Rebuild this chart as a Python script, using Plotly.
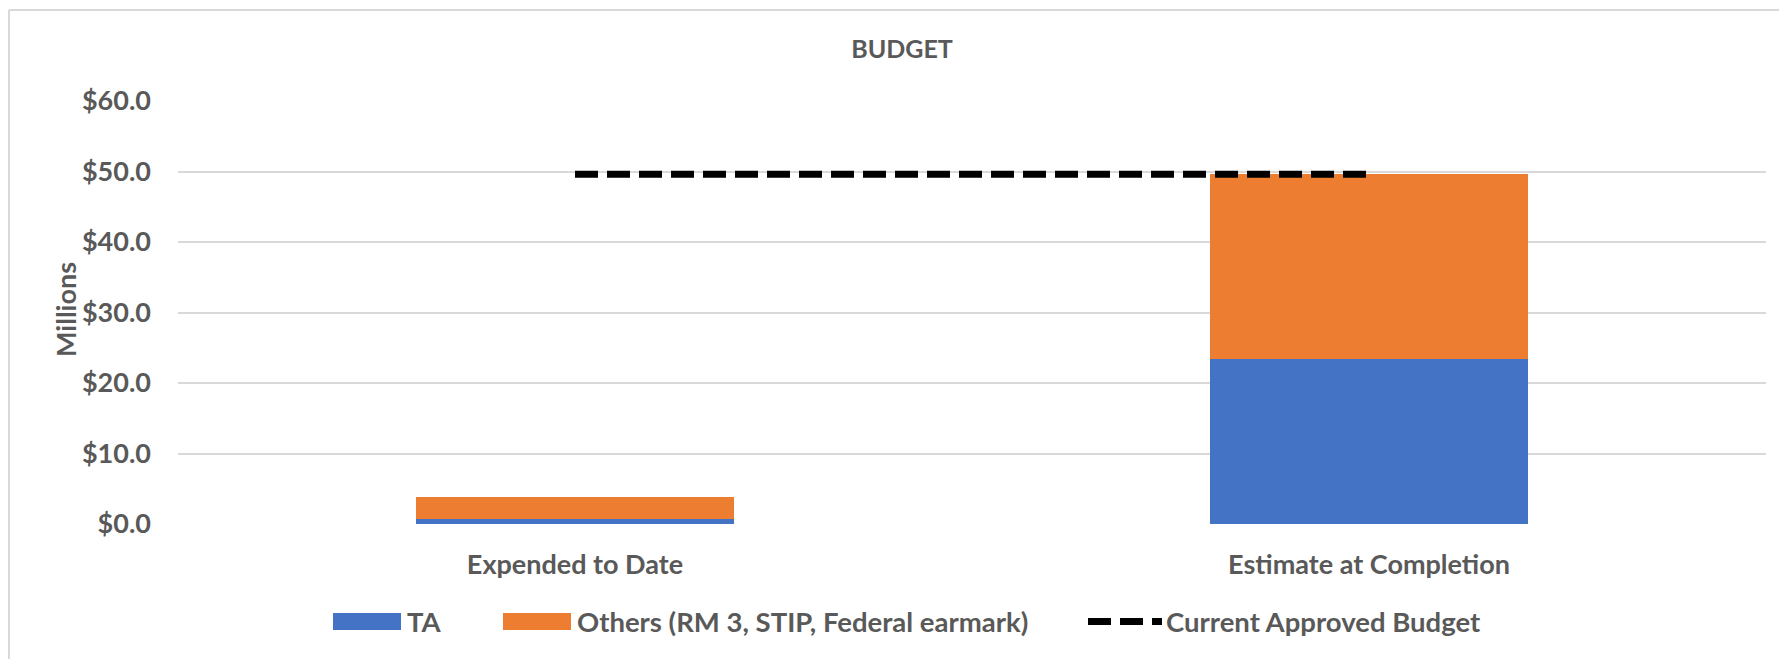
import plotly.graph_objects as go

categories = ["Expended to Date", "Estimate at Completion"]
ta_values = [0.65, 23.35]
others_values = [3.25, 26.25]
budget_values = [49.6, 49.6]
series_names = ["TA", "Others (RM 3, STIP, Federal earmark)", "Current Approved Budget"]
y_ticks = [0, 10, 20, 30, 40, 50, 60]
y_tick_labels = ["$" + f"{v:.1f}" for v in y_ticks]

BLUE = "#4472C4"
ORANGE = "#ED7D31"
GRID = "#D9D9D9"
TXT = "#595959"
FONT = "Lato"
FS = 27

OFF = 8  # page body margin
W, H = 1787 - OFF, 659 - OFF
# plot area in reference-screen pixels
L, R, T, B = 178, 1766, 101, 524


def px_x(p):
    return (p - L) / (R - L)


def px_y(p):
    return (B - p) / (B - T)


fig = go.Figure()
fig.add_trace(go.Bar(x=categories, y=ta_values, name=series_names[0],
                     marker=dict(color=BLUE, line=dict(width=0))))
fig.add_trace(go.Bar(x=categories, y=others_values, name=series_names[1],
                     marker=dict(color=ORANGE, line=dict(width=0))))
fig.add_trace(go.Scatter(x=categories, y=budget_values, name=series_names[2],
                         mode="lines",
                         line=dict(color="black", width=7, dash="23px,9px")))

shapes = [
    dict(type="line", xref="paper", yref="paper", x0=px_x(9), x1=px_x(9),
         y0=px_y(700), y1=px_y(10), line=dict(color=GRID, width=2)),
    dict(type="line", xref="paper", yref="paper", x0=px_x(9), x1=px_x(1800),
         y0=px_y(10), y1=px_y(10), line=dict(color=GRID, width=2)),
]

annotations = []
ly = 621.5
lfont = dict(family=FONT, size=27.5, color=TXT)
shapes.append(dict(type="rect", xref="paper", yref="paper",
                   x0=px_x(333), x1=px_x(401), y0=px_y(ly + 8.5), y1=px_y(ly - 8.5),
                   fillcolor=BLUE, line=dict(width=0)))
annotations.append(dict(text="<b>" + series_names[0] + "</b>", xref="paper", yref="paper",
                        x=px_x(405), y=px_y(ly), xanchor="left", yanchor="middle",
                        showarrow=False, font=lfont))
shapes.append(dict(type="rect", xref="paper", yref="paper",
                   x0=px_x(503), x1=px_x(571), y0=px_y(ly + 8.5), y1=px_y(ly - 8.5),
                   fillcolor=ORANGE, line=dict(width=0)))
annotations.append(dict(text="<b>" + series_names[1] + "</b>", xref="paper", yref="paper",
                        x=px_x(575), y=px_y(ly), xanchor="left", yanchor="middle",
                        showarrow=False, font=lfont))
shapes.append(dict(type="line", xref="paper", yref="paper",
                   x0=px_x(1088), x1=px_x(1162), y0=px_y(ly), y1=px_y(ly),
                   line=dict(color="black", width=7, dash="23px,9px")))
annotations.append(dict(text="<b>" + series_names[2] + "</b>", xref="paper", yref="paper",
                        x=px_x(1164), y=px_y(ly), xanchor="left", yanchor="middle",
                        showarrow=False, font=lfont))

annotations.append(dict(text="<b>Millions</b>", xref="paper", yref="paper",
                        x=px_x(65), y=px_y(310), xanchor="center", yanchor="middle",
                        textangle=-90, showarrow=False,
                        font=dict(family=FONT, size=FS, color=TXT)))

fig.update_layout(
    width=W, height=H,
    margin=dict(l=L - OFF, r=W - (R - OFF), t=T - OFF, b=H - (B - OFF), autoexpand=False),
    paper_bgcolor="white", plot_bgcolor="white",
    barmode="stack", bargap=0.6,
    showlegend=False,
    title=dict(text="<b>BUDGET</b>", x=px_x(902), xref="paper", xanchor="center",
               y=1 - (49 - OFF) / H, yref="container", yanchor="middle",
               font=dict(family=FONT, size=25, color=TXT)),
    font=dict(family=FONT, color=TXT),
    shapes=shapes,
    annotations=annotations,
)
fig.update_yaxes(range=[0, 60], tickvals=y_ticks, ticktext=y_tick_labels,
                 showgrid=True, gridcolor=GRID, gridwidth=2, zeroline=False,
                 showline=False, ticks="", ticklabelstandoff=26,
                 tickfont=dict(family=FONT, size=FS, color=TXT, weight="bold"))
fig.update_xaxes(showgrid=False, showline=False, ticks="", ticklabelstandoff=22,
                 tickfont=dict(family=FONT, size=FS, color=TXT, weight="bold"))

fig.write_html("out.html")
